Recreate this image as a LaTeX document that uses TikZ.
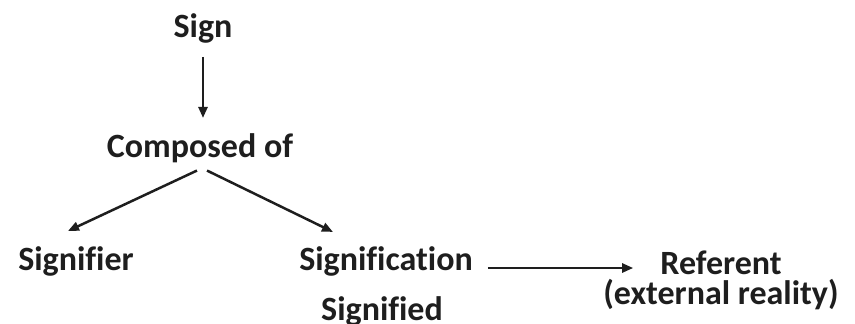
\documentclass[tikz,border=0pt]{standalone}
\usepackage{fontspec}
\setmainfont{Carlito}[Ligatures=NoCommon]
\usetikzlibrary{arrows.meta,positioning,calc}
\definecolor{ink}{HTML}{1E1E1E}

\begin{document}
\begin{tikzpicture}[x=1pt,y=-1pt,
      lbl/.style={inner sep=0pt,anchor=base,text=ink,align=center,
        font=\bfseries\fontsize{34}{30}\selectfont},
      arr/.style={-{Triangle[length=11pt,width=9pt]},line width=2.5pt,draw=ink}]
    \useasboundingbox (0,0) rectangle (855,324);
    \node[lbl] (sign) at (203,37) {Sign};
    \node[lbl] (comp) at (200,157) {Composed of};
    \node[lbl] (signifier) at (76,270) {Signifier};
    \node[lbl] (signif) at (386,270) {Signification};
    \node[lbl] (signified) at (382,320) {Signified};
    \node[lbl] (referent) at (721,304) {Referent\\(external reality)};
    \draw[arr,shorten <=14pt,shorten >=15pt] (sign.south) -- (sign.south |- comp.north);
    \draw[arr] ([xshift=-3pt,yshift=-8pt]comp.south) -- ([xshift=-8pt,yshift=15pt]signifier.north);
    \draw[arr] ([xshift=7pt,yshift=-8pt]comp.south) -- ([xshift=-53pt,yshift=14pt]signif.north);
    \draw[arr,shorten >=-30pt] ([xshift=15pt,yshift=2pt]signif.base east)
      -- ([yshift=2pt]signif.base east -| referent.west);
  \end{tikzpicture}
\end{document}
